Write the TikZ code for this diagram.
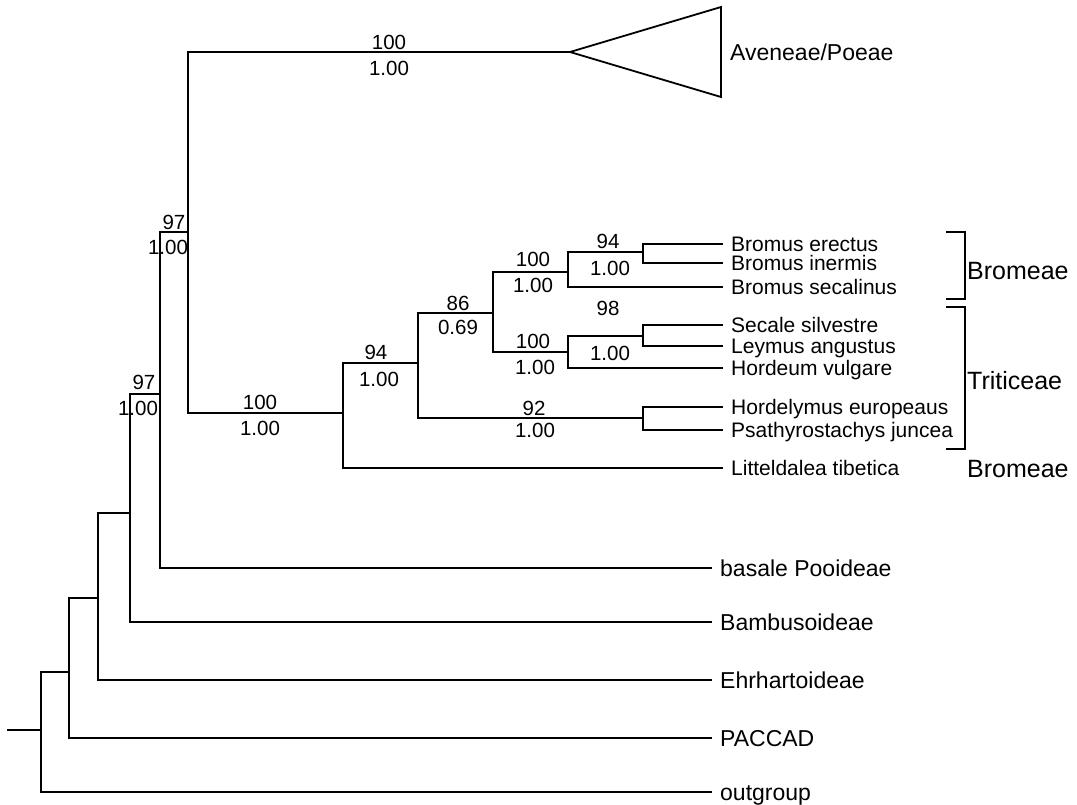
\documentclass[tikz,border=0pt]{standalone}
\usepackage{fontspec}
\setmainfont{Liberation Sans}
\begin{document}
\begin{tikzpicture}[x=1pt,y=-1pt]
	\tikzset{
		branch/.style={line width=1.8pt,line cap=rect},
		leaf/.style={anchor=west,inner xsep=9pt,inner ysep=0pt,text height=15pt,text depth=0pt,font=\fontsize{21}{24}\selectfont},
		group/.style={anchor=west,inner xsep=9pt,inner ysep=0pt,text height=16.5pt,text depth=0pt,font=\fontsize{23}{26}\selectfont},
		tribe/.style={anchor=west,inner xsep=2pt,inner ysep=0pt,text height=18pt,text depth=0pt,font=\fontsize{25}{28}\selectfont},
		bs/.style={inner sep=0pt,font=\fontsize{20.5}{24}\selectfont}
	}
	\useasboundingbox (0,0) rectangle (1077,804);

	% inner nodes of the tree
	\coordinate (stub) at (8,730);
	\coordinate (root) at (41,730);
	\coordinate (n1) at (69,672);
	\coordinate (n2) at (98,598);
	\coordinate (n3) at (130,513);
	\coordinate (n4) at (160,394);
	\coordinate (n5) at (188,232);
	\coordinate (n6) at (343,413);
	\coordinate (n7) at (418,363);
	\coordinate (n8) at (493,313);
	\coordinate (n9) at (643,418);
	\coordinate (n10) at (568,272);
	\coordinate (n11) at (568,352);
	\coordinate (n12) at (643,252);
	\coordinate (n13) at (643,336);

	% collapsed clade
	\coordinate (apex) at (570,52);
	\coordinate (tritop) at (721,7);
	\coordinate (tribot) at (721,97);
	\node[group] (aven) at (721,52) {Aveneae/Poeae};

	% leaves
	\node[group] (basal) at (711,568) {basale Pooideae};
	\node[group] (bamb) at (711,622) {Bambusoideae};
	\node[group] (ehrh) at (711,680) {Ehrhartoideae};
	\node[group] (pacc) at (711,738) {PACCAD};
	\node[group] (outg) at (711,792) {outgroup};

	\node[leaf] (berect) at (722,244) {Bromus erectus};
	\node[leaf] (binerm) at (722,263) {Bromus inermis};
	\node[leaf] (bsecal) at (722,287) {Bromus secalinus};
	\node[leaf] (secale) at (722,325) {Secale silvestre};
	\node[leaf] (leymus) at (722,346) {Leymus angustus};
	\node[leaf] (hordeum) at (722,368) {Hordeum vulgare};
	\node[leaf] (hordely) at (722,407) {Hordelymus europeaus};
	\node[leaf] (psathy) at (722,430) {Psathyrostachys juncea};
	\node[leaf] (littel) at (722,468) {Litteldalea tibetica};

	% branches
	\draw[branch] (stub) -- (root);
	\draw[branch] (root) |- (n1);
	\draw[branch] (root) |- (outg);
	\draw[branch] (n1) |- (n2);
	\draw[branch] (n1) |- (pacc);
	\draw[branch] (n2) |- (n3);
	\draw[branch] (n2) |- (ehrh);
	\draw[branch] (n3) |- (n4);
	\draw[branch] (n3) |- (bamb);
	\draw[branch] (n4) |- (n5);
	\draw[branch] (n4) |- (basal);
	\draw[branch] (n5) |- (apex);
	\draw[branch] (n5) |- (n6);
	\draw[branch] (apex) -- (tritop) -- (tribot) -- cycle;
	\draw[branch] (n6) |- (n7);
	\draw[branch] (n6) |- (littel);
	\draw[branch] (n7) |- (n8);
	\draw[branch] (n7) |- (n9);
	\draw[branch] (n8) |- (n10);
	\draw[branch] (n8) |- (n11);
	\draw[branch] (n10) |- (n12);
	\draw[branch] (n10) |- (bsecal);
	\draw[branch] (n12) |- (berect);
	\draw[branch] (n12) |- (binerm);
	\draw[branch] (n11) |- (n13);
	\draw[branch] (n11) |- (hordeum);
	\draw[branch] (n13) |- (secale);
	\draw[branch] (n13) |- (leymus);
	\draw[branch] (n9) |- (hordely);
	\draw[branch] (n9) |- (psathy);

	% support values
	\node[bs] (b1) at (389,42) {100};
	\node[bs] (b1p) at (389,68) {1.00};
	\node[bs] (b2) at (174,222) {97};
	\node[bs] (b2p) at (168,247) {1.00};
	\node[bs] (b3) at (144,382) {97};
	\node[bs] (b3p) at (138,408) {1.00};
	\node[bs] (b4) at (260,402) {100};
	\node[bs] (b4p) at (260,428) {1.00};
	\node[bs] (b5) at (376,352) {94};
	\node[bs] (b5p) at (379,379) {1.00};
	\node[bs] (b6) at (458,303) {86};
	\node[bs] (b6p) at (458,327) {0.69};
	\node[bs] (b7) at (533,259) {100};
	\node[bs] (b7p) at (533,285) {1.00};
	\node[bs] (b8) at (608,241) {94};
	\node[bs] (b8p) at (610,268) {1.00};
	\node[bs] (b9) at (608,308) {98};
	\node[bs] (b10) at (533,341) {100};
	\node[bs] (b10p) at (535,367) {1.00};
	\node[bs] (b11) at (610,353) {1.00};
	\node[bs] (b12) at (534,408) {92};
	\node[bs] (b12p) at (535,430) {1.00};

	% tribes
	\coordinate (br1a) at (947,232);
	\coordinate (br1b) at (947,299);
	\coordinate (br2a) at (947,307);
	\coordinate (br2b) at (947,449);
	\draw[branch] (br1a) -- ++(18,0) |- (br1b);
	\draw[branch] (br2a) -- ++(18,0) |- (br2b);
	\node[tribe] (brom1) at (965,270) {Bromeae};
	\node[tribe] (trit) at (965,380) {Triticeae};
	\node[tribe] (brom2) at (965,468) {Bromeae};
\end{tikzpicture}
\end{document}
